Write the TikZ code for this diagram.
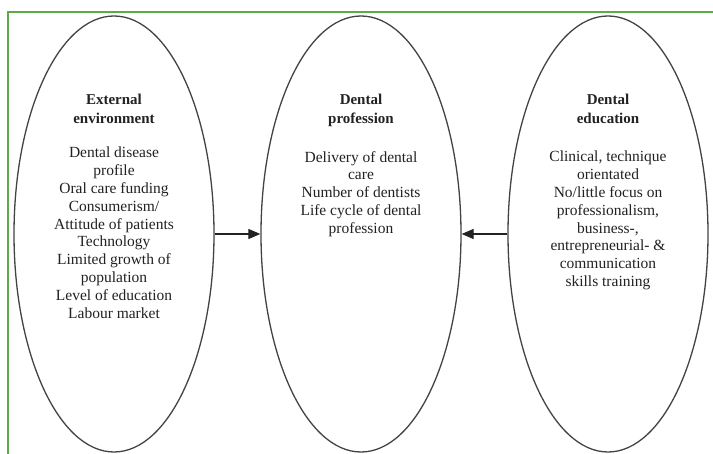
\documentclass[tikz,border=0pt]{standalone}
\usepackage{fontspec}
\setmainfont{Liberation Serif}
\newfontfamily\tmsfont{Liberation Serif}
\usetikzlibrary{shapes.geometric,arrows.meta}
\definecolor{framegreen}{HTML}{5AAC44}
\definecolor{ink}{HTML}{222222}
\begin{document}
\begin{tikzpicture}[x=1pt,y=-1pt,
  oval/.style={draw=ink!85,line width=1.3pt,ellipse,minimum width=200pt,minimum height=436pt,inner sep=0pt},
  title/.style={anchor=north,align=center,inner sep=0pt,text=ink,font=\tmsfont\fontsize{15}{19}\selectfont\bfseries},
  body/.style={anchor=north,align=center,inner sep=0pt,text=ink,font=\tmsfont\fontsize{15.5}{17.8}\selectfont},
  link/.style={draw=ink,line width=1.2pt,-{Triangle[length=12pt,width=10pt]}}]
\useasboundingbox (0,0) rectangle (713,454);
\fill[white] (0,0) rectangle (713,454);
\draw[framegreen,line width=2.4pt] (8,456) -- (8,12) -- (715,12);
\node[oval] (ext) at (114,234) {};
\node[oval] (prof) at (361,234) {};
\node[oval] (edu) at (608,234) {};
\node[title] (extT) at (114,94) {External\\environment};
\node[body] (extB) at (114,147) {Dental disease\\profile\\Oral care funding\\Consumerism/\\Attitude of patients\\Technology\\Limited growth of\\population\\Level of education\\Labour market};
\node[title] (profT) at (361,94) {Dental\\profession};
\node[body] (profB) at (361,151) {Delivery of dental\\care\\Number of dentists\\Life cycle of dental\\profession};
\node[title] (eduT) at (608,94) {Dental\\education};
\node[body] (eduB) at (608,151) {Clinical, technique\\orientated\\No/little focus on\\professionalism,\\business-,\\entrepreneurial- \&\\communication\\skills training};
\draw[link] (ext.east) -- (prof.west);
\draw[link] (edu.west) -- (prof.east);
\end{tikzpicture}
\end{document}
